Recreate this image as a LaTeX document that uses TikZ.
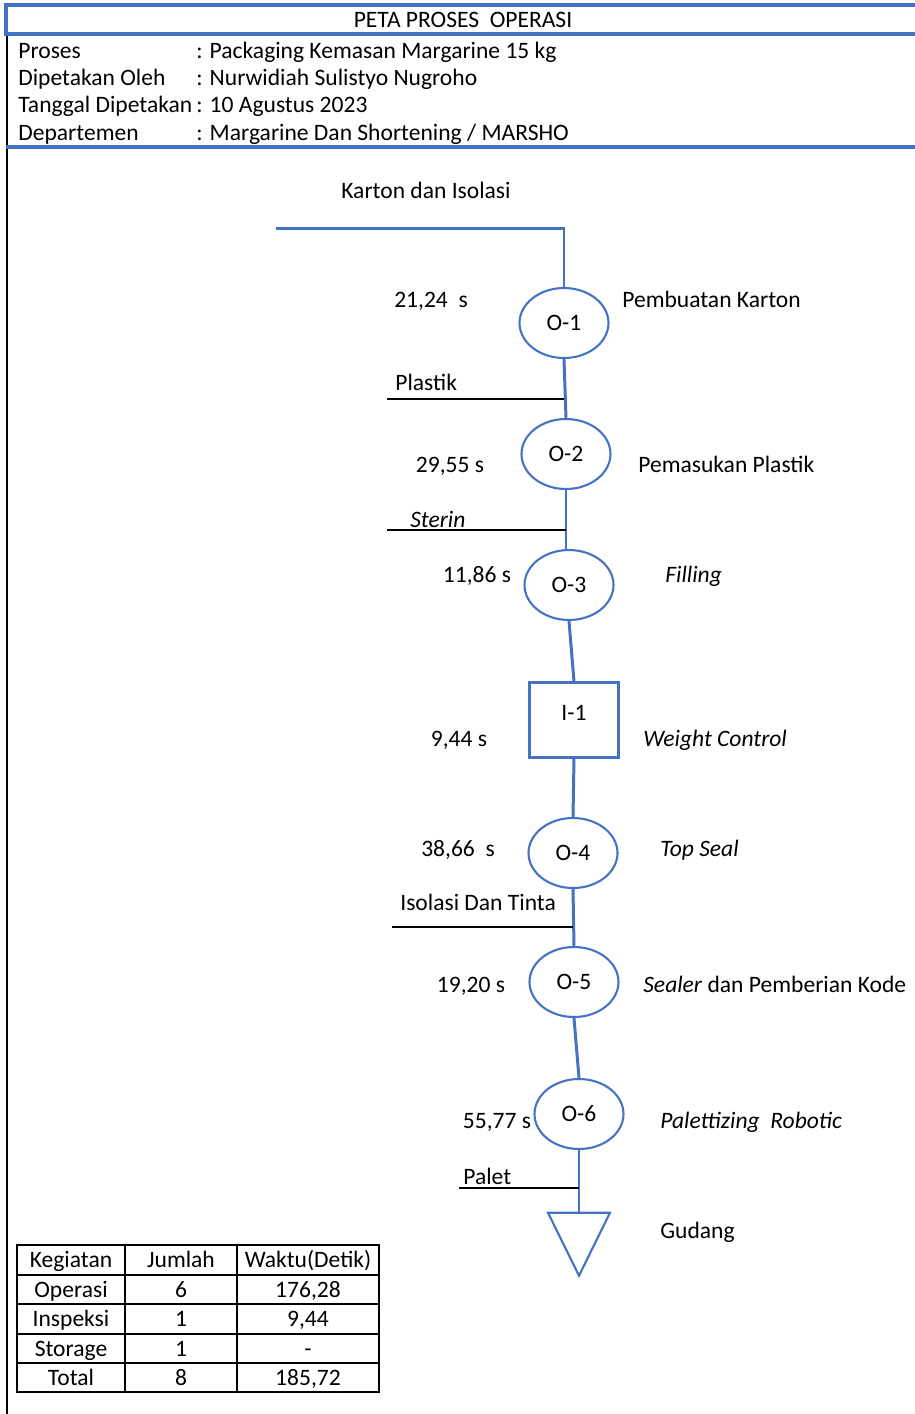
\documentclass[tikz,border=0pt]{standalone}
\usepackage{fontspec}
\setmainfont{Carlito}
\usetikzlibrary{shapes}
\usetikzlibrary{shapes.geometric}
\usetikzlibrary{positioning}
\definecolor{msblue}{RGB}{68,114,196}
\tikzset{
    opnode/.style = {ellipse, draw=msblue, line width=1.2pt, minimum width=1.78cm, minimum height=1.4cm, inner sep=0pt},
    inspnode/.style = {rectangle, draw=msblue, line width=1.2pt, minimum width=1.78cm, minimum height=1.5cm, inner sep=0pt, text height=1.6ex, text depth=1.6ex},
    stornode/.style = {isosceles triangle, isosceles triangle stretches, shape border rotate=-90, draw=msblue, line width=1.2pt, minimum width=1.24cm, minimum height=1.26cm, inner sep=0pt},
    txt/.style = {anchor=west, inner sep=0pt, text height=1.7ex, text depth=0.45ex},
    txtc/.style = {anchor=center, inner sep=0pt, text height=1.7ex, text depth=0.45ex},
    edgeb/.style = {draw=msblue, line width=1.7pt},
    edgek/.style = {draw=black, line width=1.4pt},
    frame/.style = {draw=msblue, line width=1.8pt},
    tbl/.style = {draw=black, line width=0.8pt},
    every picture/.style={font issue=\fontsize{13.4}{16}},
    font issue/.style={execute at begin picture={#1\selectfont}
  }
}
\begin{document}
\begin{tikzpicture}[x=0.02cm, y=-0.02cm]
\useasboundingbox (0,0) rectangle (914,1414);
%
% header
\draw[black, line width=0.6pt] (7,34) -- (7,1414);
\draw[frame] (918,5) -- (6,5) -- (6,34) -- (918,34);
\draw[frame] (6,147) -- (918,147);
\node[txtc] at (463,20) (title) {PETA PROSES~ OPERASI};
\node[txt] at (18,51) (h1) {Proses};
\node[txt] at (18,78) (h2) {Dipetakan Oleh};
\node[txt] at (18,105) (h3) {Tanggal Dipetakan};
\node[txt] at (18,133) (h4) {Departemen};
\node[txt] at (196,51) (v1) {: Packaging Kemasan Margarine 15 kg};
\node[txt] at (196,78) (v2) {: Nurwidiah Sulistyo Nugroho};
\node[txt] at (196,105) (v3) {: 10 Agustus 2023};
\node[txt] at (196,133) (v4) {: Margarine Dan Shortening / MARSHO};
%
% process symbols
\node[opnode] at (564,323) (o1) {O-1};
\node[opnode] at (566,454) (o2) {O-2};
\node[opnode] at (569,585) (o3) {O-3};
\node[inspnode] at (574,720) (i1) {I-1};
\node[opnode] at (573,853) (o4) {O-4};
\node[opnode] at (574,982) (o5) {O-5};
\node[opnode] at (579,1114) (o6) {O-6};
\node[stornode] at (579,1232) (g1) {};
%
% times and names
\node[txtc] at (431,300) (t1) {21,24~ s};
\node[txt] at (622,300) (n1) {Pembuatan Karton};
\node[txtc] at (450,465) (t2) {29,55 s};
\node[txt] at (638,465) (n2) {Pemasukan Plastik};
\node[txtc] at (477,575) (t3) {11,86 s};
\node[txt] at (665,575) (n3) {\itshape Filling};
\node[txtc] at (459,739) (t4) {9,44 s};
\node[txt] at (643,739) (n4) {\itshape Weight Control};
\node[txtc] at (458,849) (t5) {38,66~ s};
\node[txt] at (660,849) (n5) {\itshape Top Seal};
\node[txtc] at (471,985) (t6) {19,20 s};
\node[txt] at (643,985) (n6) {\textit{Sealer} dan Pemberian Kode};
\node[txtc] at (497,1121) (t7) {55,77 s};
\node[txt] at (660,1121) (n7) {\itshape Palettizing~ Robotic};
\node[txt] at (660,1231) (n8) {Gudang};
%
% materials
\node[txtc] at (426,191) (m1) {Karton dan Isolasi};
\node[txt] at (395,383) (m2) {Plastik};
\node[txt] at (410,520) (m3) {\itshape Sterin};
\node[txt] at (400,903) (m4) {Isolasi Dan Tinta};
\node[txt] at (463,1177) (m5) {Palet};
\coordinate (k1) at (276,228);
\coordinate (k2) at (564,228);
\coordinate (p1) at (387,399);
\coordinate (s1) at (387,530);
\coordinate (d1) at (392,927);
\coordinate (l1) at (459,1188);
%
\draw[edgeb] (k1) -- (k2) -- (o1.north);
\draw[edgeb] (o1.south) -- (o2.north);
\draw[edgeb] (o2.south) -- (o2.south |- o3.north);
\draw[edgeb] (o3.south) -- (i1.north);
\draw[edgeb] (i1.south) -- (o4.north);
\draw[edgeb] (o4.south) -- (o5.north);
\draw[edgeb] (o5.south) -- (o6.north);
\draw[edgeb] (o6.south) -- (g1.north);
\draw[edgek] (p1) -- (p1 -| o1.south);
\draw[edgek] (s1) -- (s1 -| o2.south);
\draw[edgek] (d1) -- (d1 -| o4.south);
\draw[edgek] (l1) -- (l1 -| o6.south);
%
% summary table
\draw[tbl] (17,1245) rectangle (379,1392);
\foreach \ry in {1275,1304,1334,1363} \draw[tbl] (17,\ry) -- (379,\ry);
\foreach \cx in {125,237} \draw[tbl] (\cx,1245) -- (\cx,1392);
\node[txtc] at (71,1260) (c11) {Kegiatan};
\node[txtc] at (181,1260) (c12) {Jumlah};
\node[txtc] at (308,1260) (c13) {Waktu(Detik)};
\node[txtc] at (71,1290) (c21) {Operasi};
\node[txtc] at (181,1290) (c22) {6};
\node[txtc] at (308,1290) (c23) {176,28};
\node[txtc] at (71,1319) (c31) {Inspeksi};
\node[txtc] at (181,1319) (c32) {1};
\node[txtc] at (308,1319) (c33) {9,44};
\node[txtc] at (71,1349) (c41) {Storage};
\node[txtc] at (181,1349) (c42) {1};
\node[txtc] at (308,1349) (c43) {-};
\node[txtc] at (71,1378) (c51) {Total};
\node[txtc] at (181,1378) (c52) {8};
\node[txtc] at (308,1378) (c53) {185,72};
\end{tikzpicture}
\end{document}
